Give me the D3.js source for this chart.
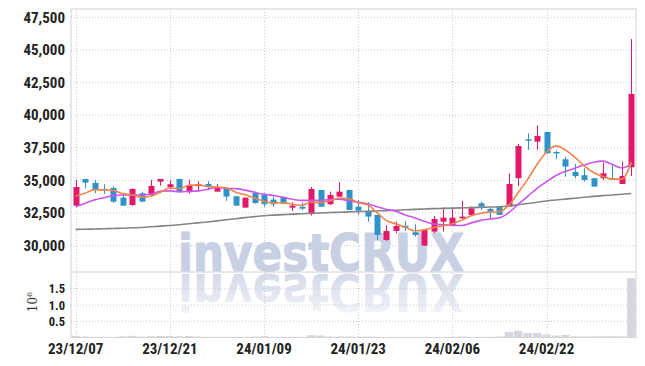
<!DOCTYPE html>
<html>
<head>
<meta charset="utf-8">
<script src="https://cdn.jsdelivr.net/npm/d3@7"></script>
<style>
body { margin: 0; background: #fff; }
svg { display: block; }
.tick text { font-family: "Liberation Sans Narrow", "Roboto Condensed", "DejaVu Sans Condensed", sans-serif; font-weight: bold; font-size: 15px; fill: #222; }
.vol .tick text { font-size: 12.5px; }
</style>
</head>
<body>
<svg id="chart" width="645" height="366"></svg>
<script>
const dates = ['23/12/07','23/12/08','23/12/11','23/12/12','23/12/13','23/12/14','23/12/15','23/12/18','23/12/19','23/12/20',
	'23/12/21','23/12/22','23/12/26','23/12/27','23/12/28','24/01/02','24/01/03','24/01/04','24/01/05','24/01/08',
	'24/01/09','24/01/10','24/01/11','24/01/12','24/01/15','24/01/16','24/01/17','24/01/18','24/01/19','24/01/22',
	'24/01/23','24/01/24','24/01/25','24/01/26','24/01/29','24/01/30','24/01/31','24/02/01','24/02/02','24/02/05',
	'24/02/06','24/02/07','24/02/08','24/02/13','24/02/14','24/02/15','24/02/16','24/02/19','24/02/20','24/02/21',
	'24/02/22','24/02/23','24/02/26','24/02/27','24/02/28','24/02/29','24/03/04','24/03/05','24/03/06','24/03/07'];

const open = [33070,35115,34810,34350,34425,33680,33120,34020,33890,34910,
	34500,35115,34100,34560,34730,34140,34400,33790,32915,34040,
	33890,33530,33740,32915,32990,32460,34270,33180,33760,34270,
	32990,32610,32360,30440,31130,31520,31030,30010,31080,31840,
	31590,32100,32360,33250,32820,32990,32990,35170,38150,37970,
	38720,37180,36620,35650,35400,35170,35170,35170,34730,36010];
const high = [35040,35115,35040,34710,34555,33990,34400,34140,35040,35115,
	35040,35115,35040,34940,34940,34710,34400,33790,33680,34140,
	34020,33760,33760,33330,33330,34500,34270,34140,34860,34270,
	33510,33330,32360,31540,31850,31880,31640,31210,32280,32920,
	32840,33430,33000,33380,32920,32990,35550,37800,38620,39230,
	38720,37280,36820,36260,35930,35170,36360,36260,36440,45830];
const low = [32990,34400,34020,33970,33280,33070,33050,33330,33760,34600,
	34330,34100,34000,34140,34250,34140,33430,33070,32915,33220,
	32990,32990,33220,32660,32740,32300,32990,33120,33760,32740,
	32360,31850,30440,30370,30960,31130,30700,29980,30960,31080,
	31540,32050,32300,32740,32100,32360,32990,34580,37340,37340,
	37080,36620,35290,35170,34910,34530,35040,35040,34730,35340];
const close = [34500,34830,34300,34270,33375,33070,34350,33380,34580,35115,
	34710,34100,34650,34710,34530,34450,33760,33070,33680,33270,
	33180,33180,33220,33070,32840,34350,32990,33890,34140,32740,
	32690,32230,30830,31130,31520,31380,30820,31210,32050,32150,
	32150,32230,32870,32990,32610,32360,34730,37640,38050,38410,
	37080,37080,36060,35340,35040,34530,35550,35040,35340,41630];

// moving average lines
const ma5 = [33810,34020,34300,34270,34230,33990,33900,33710,33790,34100,
	34430,34380,34630,34660,34540,34490,34420,34100,33900,33650,
	33390,33280,33310,33180,33100,33340,33300,33430,33650,33620,
	33290,33140,32530,31920,31680,31420,31140,31210,31400,31520,
	31680,31960,32290,32480,32570,32610,33110,34070,35080,36240,
	37180,37650,37340,36790,36120,35610,35300,35100,35100,36420];
const ma10 = [32990,33250,33510,33680,33840,33890,33890,33890,33940,34180,
	34200,34130,34160,34200,34320,34460,34400,34370,34260,34090,
	33940,33850,33710,33560,33470,33480,33470,33540,33560,33450,
	33330,33220,32980,32780,32650,32350,32140,31870,31660,31600,
	31550,31550,31750,31940,32050,32140,32540,33180,33780,34400,
	34900,35380,35700,35940,36180,36400,36480,36220,35950,36270];
const ma60 = [31250,31260,31280,31300,31320,31340,31370,31400,31450,31500,
	31550,31610,31680,31750,31820,31900,31990,32070,32150,32230,
	32300,32340,32380,32420,32450,32480,32510,32540,32560,32590,
	32610,32630,32660,32690,32720,32750,32780,32810,32840,32860,
	32880,32900,32920,32940,32960,32980,33050,33140,33230,33330,
	33430,33500,33570,33640,33710,33780,33840,33890,33940,34000];

// volume in millions of shares
const volume = [0.05,0.03,0.02,0.02,0.02,0.04,0.05,0.03,0.04,0.05,
	0.05,0.04,0.05,0.03,0.02,0.02,0.02,0.02,0.02,0.03,
	0.04,0.02,0.02,0.02,0.02,0.07,0.06,0.03,0.03,0.03,
	0.02,0.03,0.02,0.01,0.01,0.01,0.01,0.02,0.01,0.01,
	0.02,0.03,0.02,0.02,0.02,0.03,0.17,0.21,0.14,0.14,
	0.09,0.06,0.08,0.04,0.03,0.04,0.04,0.04,0.04,1.83];

const priceTicks = [30000,32500,35000,37500,40000,42500,45000,47500];
const volumeTicks = [0.5,1.0,1.5];
const dateTicks = ['23/12/07','23/12/21','24/01/09','24/01/23','24/02/06','24/02/22'];

const svg = d3.select('#chart');
const left = 71, right = 636, plotTop = 9, split = 272, bottom = 337.5;

const x = d3.scaleBand().domain(dates).range([left, right]).padding(0);
const cx = d => x(d) + x.bandwidth() / 2;
const y = d3.scaleLinear().domain([27985, 48136]).range([split, plotTop]);
const yv = d3.scaleLinear().domain([0, 2.02]).range([bottom, split]);

const up = '#e2196a', down = '#2e93c8';

// fading gradient for the watermark reflection (in the flipped coordinates)
const grad = svg.append('defs').append('linearGradient').attr('id', 'fade')
	.attr('gradientUnits', 'userSpaceOnUse').attr('x1', 0).attr('x2', 0).attr('y1', -274).attr('y2', -314);
grad.append('stop').attr('offset', 0).attr('stop-color', '#c8d0e3').attr('stop-opacity', 0.8);
grad.append('stop').attr('offset', 1).attr('stop-color', '#c8d0e3').attr('stop-opacity', 0.25);

// grid
const grid = svg.append('g').attr('stroke', '#c3c9d9').attr('stroke-dasharray', '1,2');
grid.selectAll('.hp').data(priceTicks).join('line')
	.attr('x1', left).attr('x2', right).attr('y1', d => y(d)).attr('y2', d => y(d));
grid.selectAll('.hv').data(volumeTicks).join('line')
	.attr('x1', left).attr('x2', right).attr('y1', d => yv(d)).attr('y2', d => yv(d));
grid.selectAll('.vx').data(dateTicks).join('line')
	.attr('x1', d => Math.round(cx(d)) + 0.5).attr('x2', d => Math.round(cx(d)) + 0.5)
	.attr('y1', plotTop).attr('y2', bottom);

// watermark with reflection
const wm = svg.append('g').attr('font-family', '"DejaVu Sans", sans-serif').attr('font-weight', 'bold')
	.attr('font-size', 52);
wm.append('text').attr('x', 178).attr('y', 270.5).attr('textLength', 286).attr('lengthAdjust', 'spacingAndGlyphs')
	.attr('fill', '#c8d0e3').attr('stroke', '#c8d0e3').attr('stroke-width', 1.2).text('investCRUX');
wm.append('text').attr('x', 178).attr('y', -274).attr('transform', 'scale(1,-1)')
	.attr('textLength', 286).attr('lengthAdjust', 'spacingAndGlyphs')
	.attr('fill', 'url(#fade)').text('investCRUX');

// frame
const frame = svg.append('g').attr('stroke', '#d2d2d6').attr('fill', 'none');
frame.append('rect').attr('x', left).attr('y', plotTop).attr('width', right - left).attr('height', bottom - plotTop);
frame.append('line').attr('x1', left).attr('x2', right).attr('y1', split).attr('y2', split);

// volume bars
svg.append('g').selectAll('rect').data(dates).join('rect')
	.attr('x', d => x(d) + 0.5)
	.attr('width', x.bandwidth() - 1)
	.attr('y', (d, i) => yv(volume[i]))
	.attr('height', (d, i) => bottom - yv(volume[i]))
	.attr('fill', '#d6d6de');

// candles
const candles = svg.append('g').selectAll('g').data(dates).join('g')
	.attr('fill', (d, i) => close[i] >= open[i] ? up : down)
	.attr('stroke', (d, i) => close[i] >= open[i] ? up : down);
candles.append('line')
	.attr('x1', d => Math.round(cx(d)) + 0.5).attr('x2', d => Math.round(cx(d)) + 0.5)
	.attr('y1', (d, i) => y(high[i])).attr('y2', (d, i) => y(low[i]));
const bw = 6;
candles.append('rect')
	.attr('x', d => Math.round(cx(d)) + 0.5 - bw / 2)
	.attr('width', bw)
	.attr('y', (d, i) => y(Math.max(open[i], close[i])))
	.attr('height', (d, i) => Math.max(1.5, Math.abs(y(open[i]) - y(close[i]))))
	.attr('stroke', 'none');

// moving averages
const line = d3.line().x((d, i) => cx(dates[i])).y(d => y(d)).curve(d3.curveMonotoneX);
svg.append('path').datum(ma60).attr('d', line).attr('fill', 'none').attr('stroke', '#858585').attr('stroke-width', 1.6);
svg.append('path').datum(ma10).attr('d', line).attr('fill', 'none').attr('stroke', '#cb55ec').attr('stroke-width', 1.6);
svg.append('path').datum(ma5).attr('d', line).attr('fill', 'none').attr('stroke', '#f0844c').attr('stroke-width', 1.6);

// axes
const yAxis = svg.append('g').attr('transform', `translate(${left},0)`)
	.call(d3.axisLeft(y).tickValues(priceTicks).tickFormat(d3.format(',')).tickSize(0).tickPadding(6));
yAxis.select('.domain').remove();

const vAxis = svg.append('g').attr('class', 'vol').attr('transform', `translate(${left},0)`)
	.call(d3.axisLeft(yv).tickValues(volumeTicks).tickFormat(d3.format('.1f')).tickSize(0).tickPadding(6));
vAxis.select('.domain').remove();

const xAxis = svg.append('g').attr('transform', `translate(0,${bottom})`)
	.call(d3.axisBottom(x).tickValues(dateTicks).tickSize(0).tickPadding(6));
xAxis.select('.domain').remove();

const unit = svg.append('text').attr('transform', 'translate(37,302) rotate(-90)')
	.attr('text-anchor', 'middle').attr('font-family', '"DejaVu Serif", serif').attr('font-size', 12).attr('fill', '#333');
unit.append('tspan').text('10');
unit.append('tspan').attr('dy', -5).attr('font-size', 8).text('6');
</script>
</body>
</html>
